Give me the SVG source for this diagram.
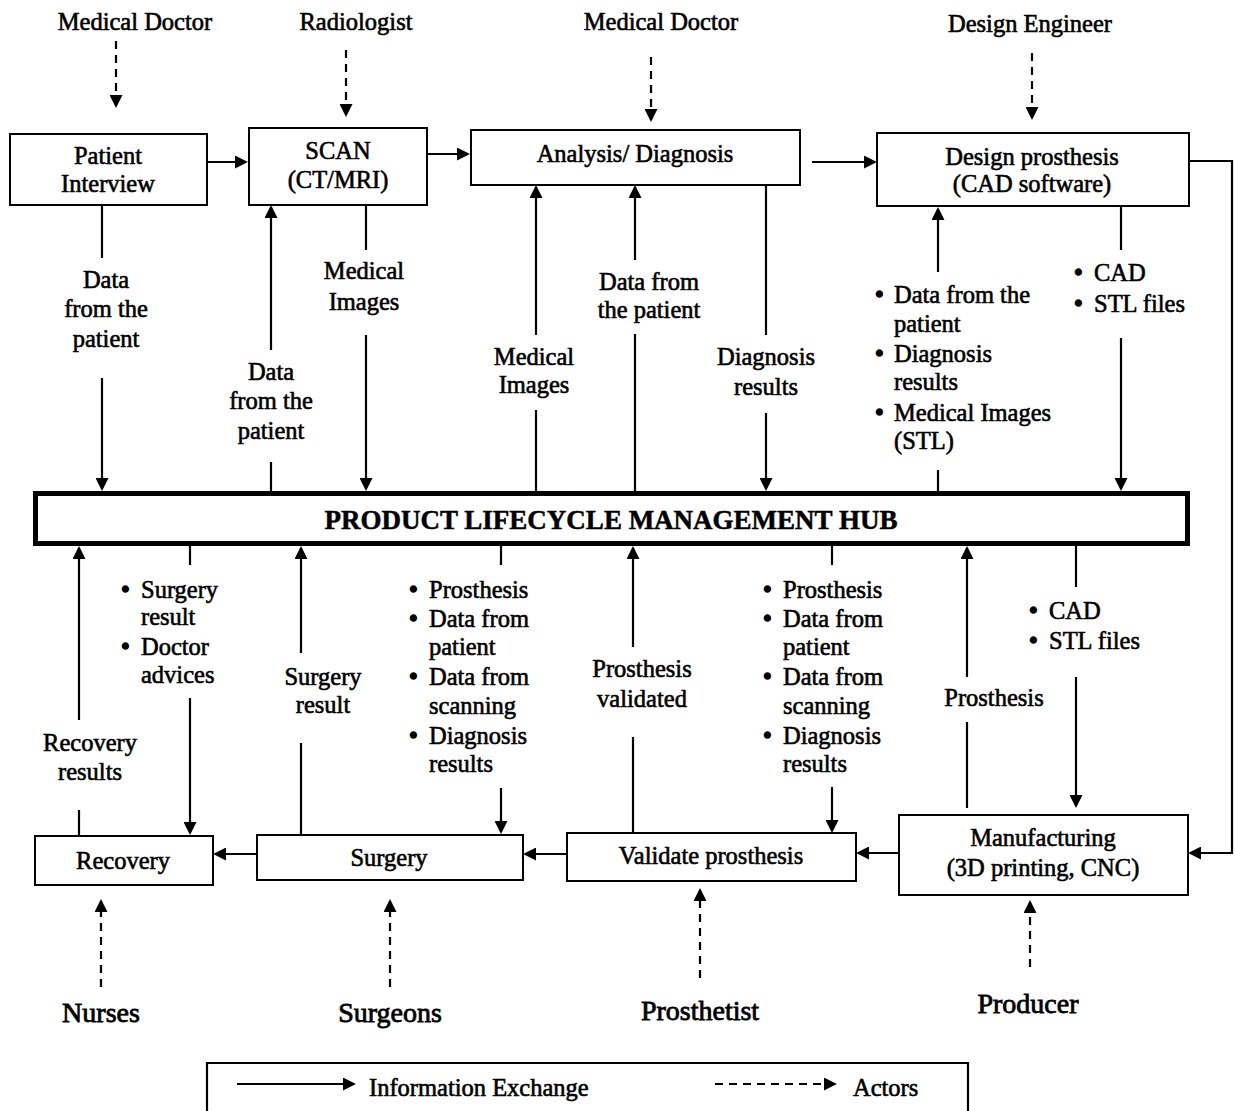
<svg xmlns="http://www.w3.org/2000/svg" width="1235" height="1111" viewBox="0 0 1235 1111">
<defs>
<style>
.box{fill:#fff;stroke:#000;stroke-width:2}
.hub{fill:#fff;stroke:#000;stroke-width:5}
.t{font-family:"Liberation Serif","Times New Roman",serif;font-size:24.5px;fill:#000;stroke:#000;stroke-width:0.6}
.c{text-anchor:middle}
.big{font-size:28px;stroke-width:0.8}
.hubt{font-size:27px;font-weight:bold;stroke-width:0.5}
.b{font-size:25px;stroke-width:1.4}
.ln{stroke:#000;stroke-width:2.2;fill:none}
.arr{marker-end:url(#ah)}
.dash{stroke-dasharray:8 6}
</style>
<marker id="ah" viewBox="0 0 10 10" refX="8.5" refY="5" markerWidth="13" markerHeight="13" markerUnits="userSpaceOnUse" orient="auto">
<path d="M0,0 L10,5 L0,10 z" fill="#000"/>
</marker>
</defs>
<rect width="1235" height="1111" fill="#fff"/>

<g id="connectors">
<path class="ln dash arr" d="M116,41 V106"/>
<path class="ln dash arr" d="M346,50 V115"/>
<path class="ln dash arr" d="M651,57 V120"/>
<path class="ln dash arr" d="M1032,53 V118"/>
<path class="ln arr" d="M208,162 H246"/>
<path class="ln arr" d="M427,154 H468"/>
<path class="ln arr" d="M812,162 H875"/>
<path class="ln arr" d="M1189,161 H1232 V853 H1190"/>
<path class="ln" d="M102,206 V258"/><path class="ln arr" d="M102,378 V489"/>
<path class="ln" d="M271,491 V462"/><path class="ln arr" d="M271,350 V207"/>
<path class="ln" d="M366,206 V250"/><path class="ln arr" d="M366,335 V489"/>
<path class="ln" d="M536,491 V410"/><path class="ln arr" d="M536,335 V187"/>
<path class="ln" d="M635,491 V334"/><path class="ln arr" d="M635,260 V187"/>
<path class="ln" d="M766,186 V335"/><path class="ln arr" d="M766,413 V489"/>
<path class="ln" d="M938,491 V470"/><path class="ln arr" d="M938,272 V209"/>
<path class="ln" d="M1121,207 V250"/><path class="ln arr" d="M1121,338 V489"/>
<path class="ln" d="M79,835 V810"/><path class="ln arr" d="M79,720 V548"/>
<path class="ln" d="M190,546 V565"/><path class="ln arr" d="M190,698 V833"/>
<path class="ln" d="M301,834 V743"/><path class="ln arr" d="M301,653 V548"/>
<path class="ln" d="M501,546 V565"/><path class="ln arr" d="M501,788 V832"/>
<path class="ln" d="M633,832 V737"/><path class="ln arr" d="M633,647 V548"/>
<path class="ln" d="M832,546 V565"/><path class="ln arr" d="M832,787 V831"/>
<path class="ln" d="M967,808 V722"/><path class="ln arr" d="M967,677 V548"/>
<path class="ln" d="M1076,546 V587"/><path class="ln arr" d="M1076,677 V806"/>
<path class="ln arr" d="M899,853 H858"/>
<path class="ln arr" d="M567,854 H525"/>
<path class="ln arr" d="M257,854 H215"/>
<path class="ln dash arr" d="M101,987 V901"/>
<path class="ln dash arr" d="M390,987 V901"/>
<path class="ln dash arr" d="M700,978 V890"/>
<path class="ln dash arr" d="M1030,967 V902"/>
</g>

<g id="labels">
<text class="t c" x="106" y="288">Data</text>
<text class="t c" x="106" y="317">from the</text>
<text class="t c" x="106" y="347">patient</text>
<text class="t c" x="271" y="380">Data</text>
<text class="t c" x="271" y="409">from the</text>
<text class="t c" x="271" y="439">patient</text>
<text class="t c" x="364" y="279">Medical</text>
<text class="t c" x="364" y="310">Images</text>
<text class="t c" x="534" y="365">Medical</text>
<text class="t c" x="534" y="393">Images</text>
<text class="t c" x="649" y="290">Data from</text>
<text class="t c" x="649" y="318">the patient</text>
<text class="t c" x="766" y="365">Diagnosis</text>
<text class="t c" x="766" y="395">results</text>
<text class="t"><tspan class="b" x="875" y="303">•</tspan><tspan x="894" y="303">Data from the</tspan><tspan x="894" y="332">patient</tspan><tspan class="b" x="875" y="362">•</tspan><tspan x="894" y="362">Diagnosis</tspan><tspan x="894" y="390">results</tspan><tspan class="b" x="875" y="421">•</tspan><tspan x="894" y="421">Medical Images</tspan><tspan x="894" y="449">(STL)</tspan></text>
<text class="t"><tspan class="b" x="1074" y="281">•</tspan><tspan x="1094" y="281">CAD</tspan><tspan class="b" x="1074" y="312">•</tspan><tspan x="1094" y="312">STL files</tspan></text>

<text class="t"><tspan class="b" x="121" y="598">•</tspan><tspan x="141" y="598">Surgery</tspan><tspan x="141" y="625">result</tspan><tspan class="b" x="121" y="655">•</tspan><tspan x="141" y="655">Doctor</tspan><tspan x="141" y="683">advices</tspan></text>
<text class="t c" x="323" y="685">Surgery</text>
<text class="t c" x="323" y="713">result</text>
<text class="t"><tspan class="b" x="409" y="598">•</tspan><tspan x="429" y="598">Prosthesis</tspan><tspan class="b" x="409" y="627">•</tspan><tspan x="429" y="627">Data from</tspan><tspan x="429" y="655">patient</tspan><tspan class="b" x="409" y="685">•</tspan><tspan x="429" y="685">Data from</tspan><tspan x="429" y="714">scanning</tspan><tspan class="b" x="409" y="744">•</tspan><tspan x="429" y="744">Diagnosis</tspan><tspan x="429" y="772">results</tspan></text>
<text class="t c" x="642" y="677">Prosthesis</text>
<text class="t c" x="642" y="707">validated</text>
<text class="t"><tspan class="b" x="763" y="598">•</tspan><tspan x="783" y="598">Prosthesis</tspan><tspan class="b" x="763" y="627">•</tspan><tspan x="783" y="627">Data from</tspan><tspan x="783" y="655">patient</tspan><tspan class="b" x="763" y="685">•</tspan><tspan x="783" y="685">Data from</tspan><tspan x="783" y="714">scanning</tspan><tspan class="b" x="763" y="744">•</tspan><tspan x="783" y="744">Diagnosis</tspan><tspan x="783" y="772">results</tspan></text>
<text class="t c" x="994" y="706">Prosthesis</text>
<text class="t"><tspan class="b" x="1029" y="619">•</tspan><tspan x="1049" y="619">CAD</tspan><tspan class="b" x="1029" y="649">•</tspan><tspan x="1049" y="649">STL files</tspan></text>
<text class="t c" x="90" y="751">Recovery</text>
<text class="t c" x="90" y="780">results</text>
</g>

<g id="actor-medical-doctor-1"><text class="t c" x="135" y="30">Medical Doctor</text></g>
<g id="actor-radiologist"><text class="t c" x="356" y="30">Radiologist</text></g>
<g id="actor-medical-doctor-2"><text class="t c" x="661" y="30">Medical Doctor</text></g>
<g id="actor-design-engineer"><text class="t c" x="1030" y="32">Design Engineer</text></g>

<g id="node-patient-interview">
<rect class="box" x="10" y="134" width="197" height="71"/>
<text class="t c" x="108" y="164">Patient</text>
<text class="t c" x="108" y="192">Interview</text>
</g>
<g id="node-scan">
<rect class="box" x="249" y="128" width="178" height="77"/>
<text class="t c" x="338" y="159">SCAN</text>
<text class="t c" x="338" y="188">(CT/MRI)</text>
</g>
<g id="node-analysis">
<rect class="box" x="471" y="130" width="329" height="55"/>
<text class="t c" x="635" y="162">Analysis/ Diagnosis</text>
</g>
<g id="node-design">
<rect class="box" x="877" y="133" width="312" height="73"/>
<text class="t c" x="1032" y="165">Design prosthesis</text>
<text class="t c" x="1032" y="192">(CAD software)</text>
</g>

<g id="node-hub">
<rect class="hub" x="35.5" y="493.5" width="1152" height="50"/>
<text class="t c hubt" x="611" y="529">PRODUCT LIFECYCLE MANAGEMENT HUB</text>
</g>

<g id="node-recovery">
<rect class="box" x="35" y="836" width="178" height="49"/>
<text class="t c" x="123" y="869">Recovery</text>
</g>
<g id="node-surgery">
<rect class="box" x="257" y="835" width="266" height="45"/>
<text class="t c" x="389" y="866">Surgery</text>
</g>
<g id="node-validate">
<rect class="box" x="567" y="833" width="289" height="48"/>
<text class="t c" x="711" y="864">Validate prosthesis</text>
</g>
<g id="node-manufacturing">
<rect class="box" x="899" y="815" width="289" height="80"/>
<text class="t c" x="1043" y="846">Manufacturing</text>
<text class="t c" x="1043" y="876">(3D printing, CNC)</text>
</g>

<g id="actor-nurses"><text class="t c big" x="101" y="1022">Nurses</text></g>
<g id="actor-surgeons"><text class="t c big" x="390" y="1022">Surgeons</text></g>
<g id="actor-prosthetist"><text class="t c big" x="700" y="1020">Prosthetist</text></g>
<g id="actor-producer"><text class="t c big" x="1028" y="1013">Producer</text></g>

<g id="legend">
<path class="ln" d="M207,1115 V1063 H968 V1115"/>
<path class="ln arr" d="M237,1084 H354"/>
<text class="t" x="369" y="1096">Information Exchange</text>
<path class="ln dash arr" d="M715,1084 H835"/>
<text class="t" x="853" y="1096">Actors</text>
</g>
</svg>
